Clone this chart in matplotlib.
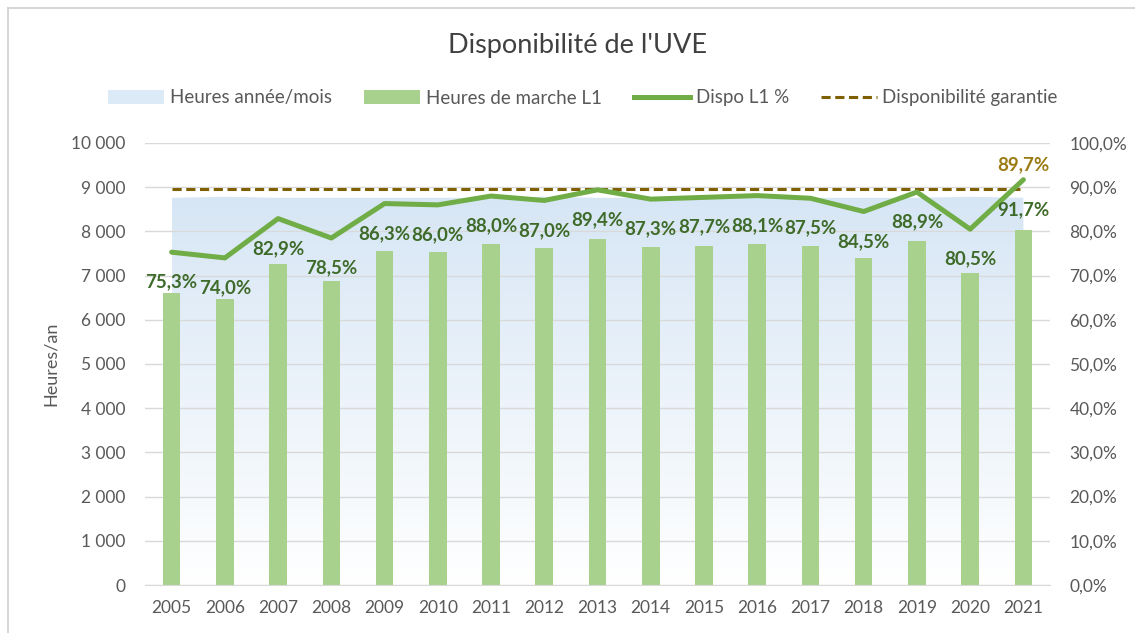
import matplotlib
matplotlib.use("Agg")
import matplotlib.pyplot as plt
import numpy as np
from matplotlib.patches import Patch, Polygon
from matplotlib.lines import Line2D
from matplotlib.colors import LinearSegmentedColormap

plt.rcParams['font.family'] = ['Lato', 'DejaVu Sans']

years = ['2005', '2006', '2007', '2008', '2009', '2010', '2011', '2012', '2013',
         '2014', '2015', '2016', '2017', '2018', '2019', '2020', '2021']
heures_annee = [8760, 8784, 8760, 8760, 8760, 8760, 8760, 8784, 8760,
                8760, 8760, 8784, 8760, 8760, 8760, 8784, 8760]
heures_marche = [6600, 6480, 7260, 6880, 7560, 7530, 7710, 7620, 7830,
                 7650, 7680, 7720, 7670, 7400, 7790, 7070, 8030]
dispo = [75.3, 74.0, 82.9, 78.5, 86.3, 86.0, 88.0, 87.0, 89.4,
         87.3, 87.7, 88.1, 87.5, 84.5, 88.9, 80.5, 91.7]
garantie = [89.7] * 17

c_bar = '#a9d18e'
c_line = '#70ad47'
c_lbl = '#3e6b29'
c_dash = '#7f6000'
c_dash_lbl = '#9c7a12'
c_text = '#595959'
c_grid = '#d9d9d9'

fig = plt.figure(figsize=(11.35, 6.33), dpi=100)
ax = fig.add_axes([145/1135, 48/633, 905/1135, 442/633])
x = np.arange(len(years))

# gradient area
ax.set_xlim(-0.5, len(years) - 0.5)
ax.set_ylim(0, 10000)
verts = [(x[0], 0)] + list(zip(x, heures_annee)) + [(x[-1], 0)]
poly = Polygon(verts, closed=True, facecolor='none', edgecolor='none')
ax.add_patch(poly)
cmap = LinearSegmentedColormap.from_list('g', ['#ffffff', '#d7e6f5'])
grad = np.linspace(0, 1, 256).reshape(-1, 1)
im = ax.imshow(grad, cmap=cmap, aspect='auto', origin='lower',
               extent=[x[0], x[-1], 0, max(heures_annee)], zorder=0.5)
im.set_clip_path(poly)

ax.bar(x, heures_marche, width=0.33, color=c_bar, zorder=2)

ax.set_yticks(np.arange(0, 10001, 1000))
ax.set_yticklabels([f"{v:,}".replace(',', '\u202f') if v >= 1000 else str(v)
                    for v in range(0, 10001, 1000)])
ax.grid(axis='y', color=c_grid, lw=1, zorder=0)
ax.set_axisbelow(True)
ax.set_xticks(x)
ax.set_xticklabels(years)
ax.tick_params(axis='both', length=0, colors=c_text, labelsize=12.5)
ax.tick_params(axis='y', pad=14)
ax.tick_params(axis='x', pad=11)
for s in ['top', 'right', 'left']:
    ax.spines[s].set_visible(False)
ax.spines['bottom'].set_color(c_grid)
ax.set_ylabel('Heures/an', color=c_text, fontsize=13, labelpad=9)

ax2 = ax.twinx()
ax2.set_ylim(0, 100)
ax2.set_yticks(np.arange(0, 101, 10))
ax2.set_yticklabels([f"{v:.1f}%".replace('.', ',') for v in range(0, 101, 10)])
ax2.tick_params(axis='y', length=0, colors=c_text, labelsize=12.5, pad=14)
for s in ['top', 'right', 'left', 'bottom']:
    ax2.spines[s].set_visible(False)

ax2.plot(x, garantie, color=c_dash, lw=2.2, ls=(0, (3, 1.5)), zorder=3)
ax2.plot(x, dispo, color=c_line, lw=3.6, zorder=4, solid_capstyle='round')

for xi, v in zip(x, dispo):
    ax2.annotate(f"{v:.1f}%".replace('.', ','), (xi, v), xytext=(0, -21.5),
                 textcoords='offset points', ha='center', va='center',
                 fontsize=13.5, fontweight='bold', color=c_lbl, zorder=5)
ax2.annotate(f"{garantie[-1]:.1f}%".replace('.', ','), (x[-1], garantie[-1]),
             xytext=(0, 17), textcoords='offset points', ha='center', va='center',
             fontsize=13.5, fontweight='bold', color=c_dash_lbl, zorder=5)

fig.text(578/1135, 1 - 45/633, "Disponibilité de l'UVE", ha='center', va='center',
         fontsize=19.5, color='#404040')

handles = [Patch(facecolor='#dce9f6', edgecolor='none'),
           Patch(facecolor=c_bar, edgecolor='none'),
           Line2D([], [], color=c_line, lw=3.6),
           Line2D([], [], color=c_dash, lw=2.2, ls=(0, (3, 1.5)))]
labels = ['Heures année/mois', 'Heures de marche L1', 'Dispo L1 %', 'Disponibilité garantie']
leg = fig.legend(handles, labels, loc='center', bbox_to_anchor=(583/1135, 1 - 98/633),
                 ncol=4, frameon=False, fontsize=13.5, handlelength=3.0,
                 handletextpad=0.3, columnspacing=1.7, labelcolor=c_text)

# chart border
fig.add_artist(Line2D([8/1135, 8/1135], [0, 1 - 8/633], color='#d0d0d0', lw=1.2,
                      transform=fig.transFigure))
fig.add_artist(Line2D([8/1135, 1], [1 - 8/633, 1 - 8/633], color='#d0d0d0', lw=1.2,
                      transform=fig.transFigure))

fig.savefig('out.png', dpi=100)
